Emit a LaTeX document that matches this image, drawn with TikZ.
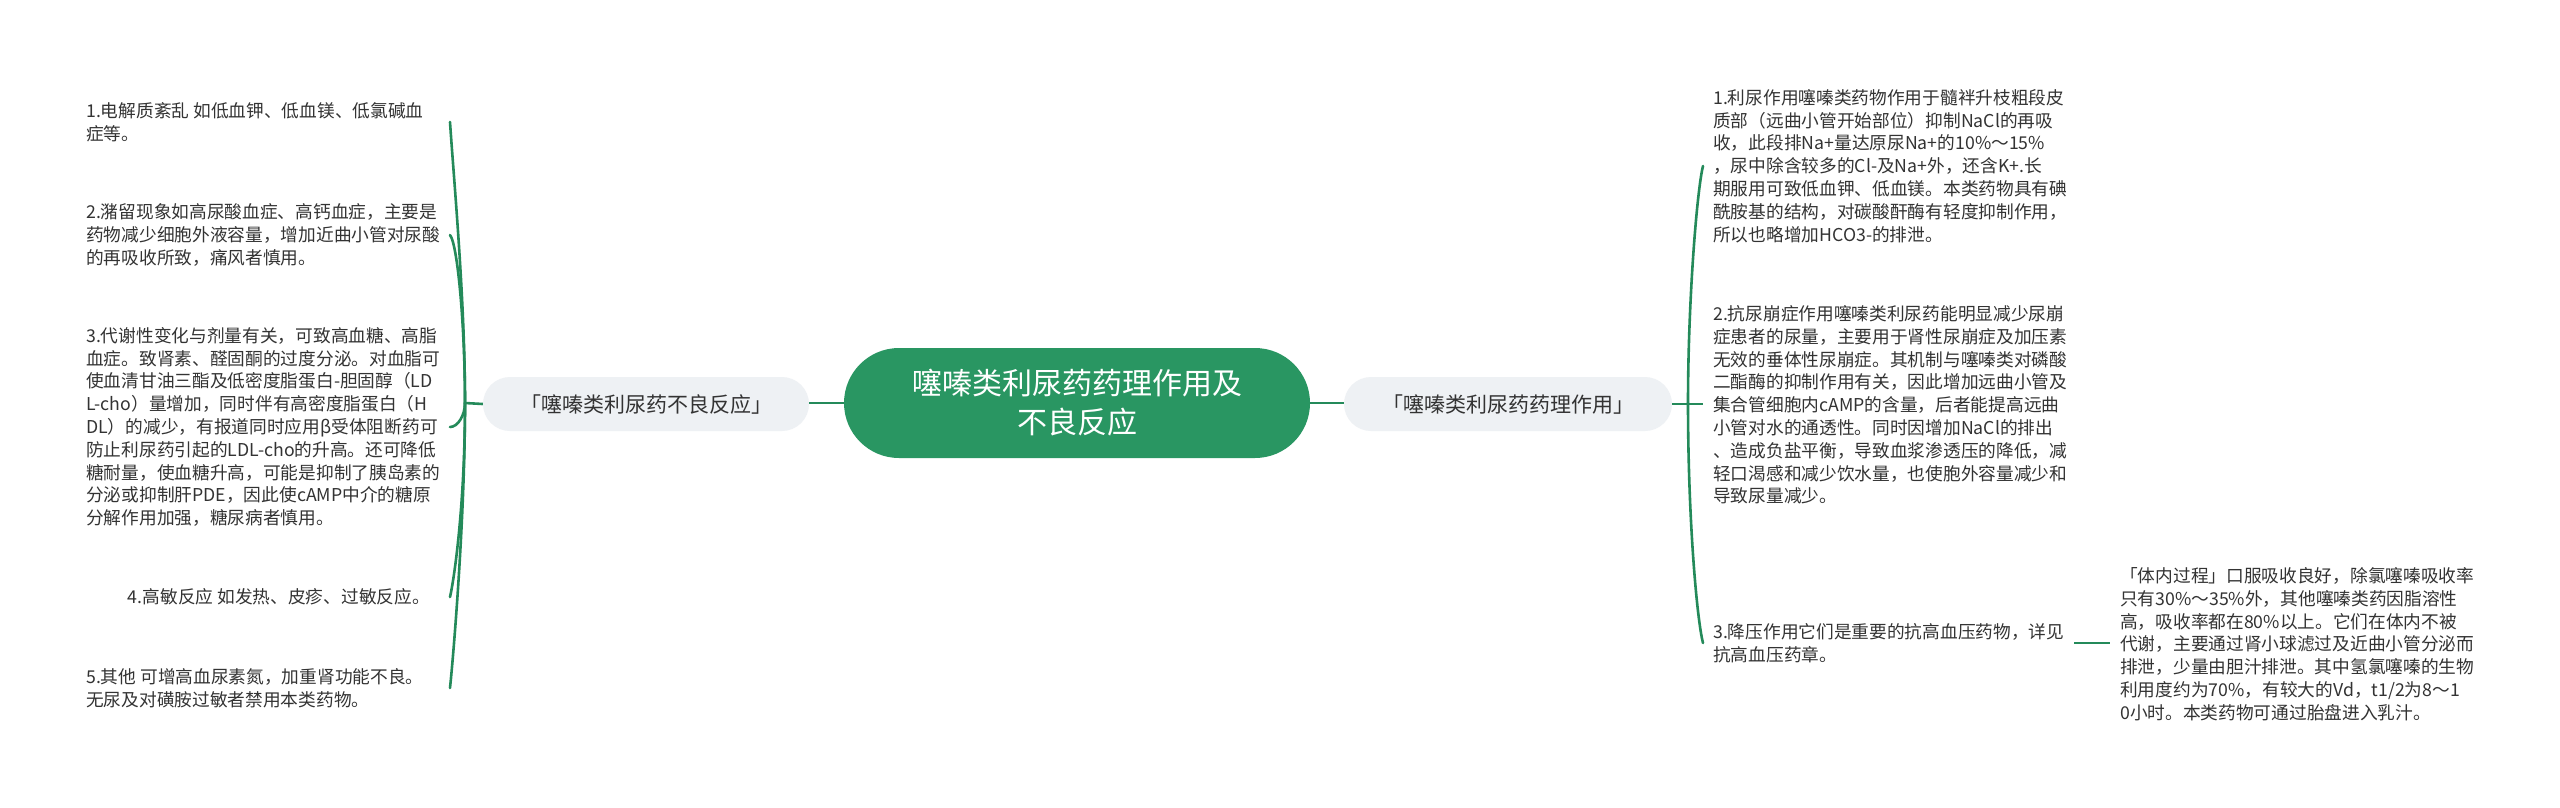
\documentclass[tikz,border=0pt]{standalone}
\usepackage{fontspec}
\setmainfont{Noto Sans CJK SC}
\definecolor{mgreen}{RGB}{41,150,98}
\definecolor{lgreen}{RGB}{36,138,90}
\definecolor{bgray}{RGB}{238,241,244}
\definecolor{tgray}{RGB}{51,51,51}
\begin{document}
\begin{tikzpicture}[x=1pt,y=-1pt,
  central/.style={fill=mgreen, rounded corners=55pt, minimum width=466pt, minimum height=110pt, text=white, align=center, font=\fontsize{30}{39}\selectfont, inner sep=0pt},
  branch/.style={fill=bgray, rounded corners=27pt, minimum height=54pt, text=tgray, font=\fontsize{21}{26}\selectfont, inner sep=0pt},
  leaf/.style={text=tgray, align=left, font=\fontsize{17.7}{22.8}\selectfont, inner ysep=0pt, inner xsep=10pt},
  conn/.style={draw=lgreen, line width=2.6pt},
]
\useasboundingbox[fill=white] (0,0) rectangle (2560,807);

% central
\node[central] (c) at (1077,403) {噻嗪类利尿药药理作用及\\不良反应};
% branches
\node[branch, minimum width=326pt] (lb) at (646,404) {「噻嗪类利尿药不良反应」};
\node[branch, minimum width=328pt] (rb) at (1508,404) {「噻嗪类利尿药药理作用」};

\draw[conn] (c.west) -- (c.west -| lb.east);
\draw[conn] (c.east) -- (c.east -| rb.west);

% left leaves
\node[leaf, anchor=west] (l1) at (76,122) {1.电解质紊乱 如低血钾、低血镁、低氯碱血\\症等。};
\node[leaf, anchor=west] (l2) at (76,235) {2.潴留现象如高尿酸血症、高钙血症，主要是\\药物减少细胞外液容量，增加近曲小管对尿酸\\的再吸收所致，痛风者慎用。};
\node[leaf, anchor=west] (l3) at (76,427) {3.代谢性变化与剂量有关，可致高血糖、高脂\\血症。致肾素、醛固酮的过度分泌。对血脂可\\使血清甘油三酯及低密度脂蛋白-胆固醇（LD\\L-cho）量增加，同时伴有高密度脂蛋白（H\\DL）的减少，有报道同时应用β受体阻断药可\\防止利尿药引起的LDL-cho的升高。还可降低\\糖耐量，使血糖升高，可能是抑制了胰岛素的\\分泌或抑制肝PDE，因此使cAMP中介的糖原\\分解作用加强，糖尿病者慎用。};
\node[leaf, anchor=east] (l4) at (440,597) {4.高敏反应 如发热、皮疹、过敏反应。};
\node[leaf, anchor=west] (l5) at (76,688) {5.其他 可增高血尿素氮，加重肾功能不良。\\无尿及对磺胺过敏者禁用本类药物。};

\coordinate (lp) at (465,403);
\coordinate (lx) at (450,0);
\draw[conn] (lb.west) -- (lp);
\draw[conn, line cap=round] (lp) .. controls (465,300) and (454,182) .. (lx |- l1.east);
\draw[conn, line cap=round] (lp) .. controls (465,330) and (458,245) .. (lx |- l2.east);
\draw[conn, line cap=round] (lp) .. controls (465,415) and (458,427) .. (lx |- l3.east);
\draw[conn, line cap=round] (lp) .. controls (465,500) and (455,575) .. (lx |- l4.east);
\draw[conn, line cap=round] (lp) .. controls (465,520) and (453,660) .. (lx |- l5.east);

% right leaves
\node[leaf, anchor=west] (r1) at (1703,166) {1.利尿作用噻嗪类药物作用于髓袢升枝粗段皮\\质部（远曲小管开始部位）抑制NaCl的再吸\\收，此段排Na+量达原尿Na+的10\%～15\%\\，尿中除含较多的Cl-及Na+外，还含K+.长\\期服用可致低血钾、低血镁。本类药物具有碘\\酰胺基的结构，对碳酸酐酶有轻度抑制作用，\\所以也略增加HCO3-的排泄。};
\node[leaf, anchor=west] (r2) at (1703,405) {2.抗尿崩症作用噻嗪类利尿药能明显减少尿崩\\症患者的尿量，主要用于肾性尿崩症及加压素\\无效的垂体性尿崩症。其机制与噻嗪类对磷酸\\二酯酶的抑制作用有关，因此增加远曲小管及\\集合管细胞内cAMP的含量，后者能提高远曲\\小管对水的通透性。同时因增加NaCl的排出\\、造成负盐平衡，导致血浆渗透压的降低，减\\轻口渴感和减少饮水量，也使胞外容量减少和\\导致尿量减少。};
\node[leaf, anchor=west] (r3) at (1703,643) {3.降压作用它们是重要的抗高血压药物，详见\\抗高血压药章。};
\node[leaf, anchor=west] (r3a) at (2110,644) {「体内过程」口服吸收良好，除氯噻嗪吸收率\\只有30\%～35\%外，其他噻嗪类药因脂溶性\\高，吸收率都在80\%以上。它们在体内不被\\代谢，主要通过肾小球滤过及近曲小管分泌而\\排泄，少量由胆汁排泄。其中氢氯噻嗪的生物\\利用度约为70\%，有较大的Vd，t1/2为8～1\\0小时。本类药物可通过胎盘进入乳汁。};

\coordinate (rp) at (1688,403);
\draw[conn] (rb.east) -- (r2.west |- rb.east);
\draw[conn, line cap=round] (rp) .. controls (1688,300) and (1697,190) .. (r1.west);
\draw[conn, line cap=round] (rp) .. controls (1688,520) and (1697,620) .. (r3.west);
\draw[conn] (r3.east) -- (r3.east -| r3a.west);
\end{tikzpicture}
\end{document}
